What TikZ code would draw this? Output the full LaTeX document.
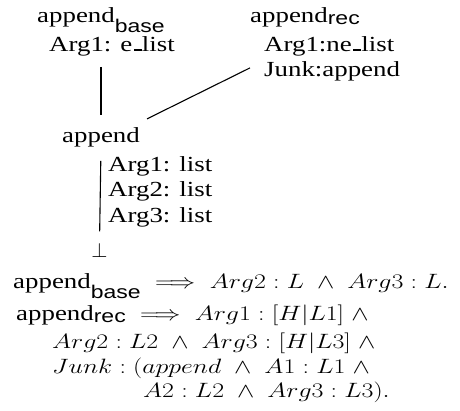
\documentclass[tikz,border=0pt]{standalone}
\usepackage{amsmath}
\usepackage{graphicx}
\usepackage[no-math]{fontspec}
\setmainfont{Liberation Serif}
\newfontfamily\subf{Liberation Sans}
\newcommand\sx[1]{\scalebox{1.25}[1]{#1}}
\newcommand\us{\kern0.06em\rule{0.3em}{0.07em}}
\newcommand\sbase{\raisebox{-10pt}{\fontsize{18.4}{20}\subf base}}
\newcommand\srec{\raisebox{-2.5pt}{\fontsize{18.4}{20}\subf rec}}
\tikzset{
  lbl/.style={inner sep=0pt, anchor=base west, font=\fontsize{21.5}{26}\selectfont},
  mth/.style={inner sep=0pt, anchor=base west, font=\fontsize{22}{26}\selectfont},
  conn/.style={line width=1.1pt}
}
\begin{document}
\begin{tikzpicture}[x=1pt,y=-1pt]
\useasboundingbox (0,0) rectangle (460,410);
% top nodes
\node[lbl] (base)  at (37,22)  {\sx{append\sbase}};
\node[lbl] (baseA) at (49,51)  {\sx{Arg1: e\us list}};
\node[lbl] (rec)   at (250,22) {\sx{append\srec}};
\node[lbl] (recA)  at (264,51) {\sx{Arg1:ne\us list}};
\node[lbl] (recJ)  at (264,76) {\sx{Junk:append}};
% middle
\node[lbl] (app)   at (62,142) {\sx{append}};
\node[lbl] (app1)  at (108,171) {\sx{Arg1: list}};
\node[lbl] (app2)  at (108,196) {\sx{Arg2: list}};
\node[lbl] (app3)  at (108,222) {\sx{Arg3: list}};
\node[inner sep=0pt, anchor=base, font=\fontsize{21.5}{26}\selectfont] (bot) at (99.5,257) {$\bot$};
% connectors
\draw[conn, shorten <=11pt, shorten >=12pt] (baseA.south -| app.north) -- (app.north);
\draw[conn] ([xshift=7pt,yshift=8pt]app.north east) -- ([xshift=-14pt,yshift=-7pt]recJ.north west);
\draw[conn, shorten <=14pt, shorten >=11pt] (app.south) -- (bot.north);
% formulas
\node[mth] (f1) at (13,288)  {\sx{\fontsize{21.5}{26}\selectfont append\sbase\fontsize{22}{26}\selectfont$\;\implies Arg2 : L\;\wedge\;Arg3 : L.$}};
\node[mth] (f2) at (16,320)  {\sx{\fontsize{21.5}{26}\selectfont append\srec\fontsize{22}{26}\selectfont$\;\implies Arg1 : [H|L1]\;\wedge$}};
\node[mth] (f3) at (52,348)  {\sx{$Arg2 : L2\;\wedge\;Arg3 : [H|L3]\;\wedge$}};
\node[mth] (f4) at (52,373)  {\sx{$Junk : (append\;\wedge\;A1 : L1\;\wedge$}};
\node[mth] (f5) at (143,397) {\sx{$A2 : L2\;\wedge\;Arg3 : L3).$}};
\end{tikzpicture}
\end{document}
